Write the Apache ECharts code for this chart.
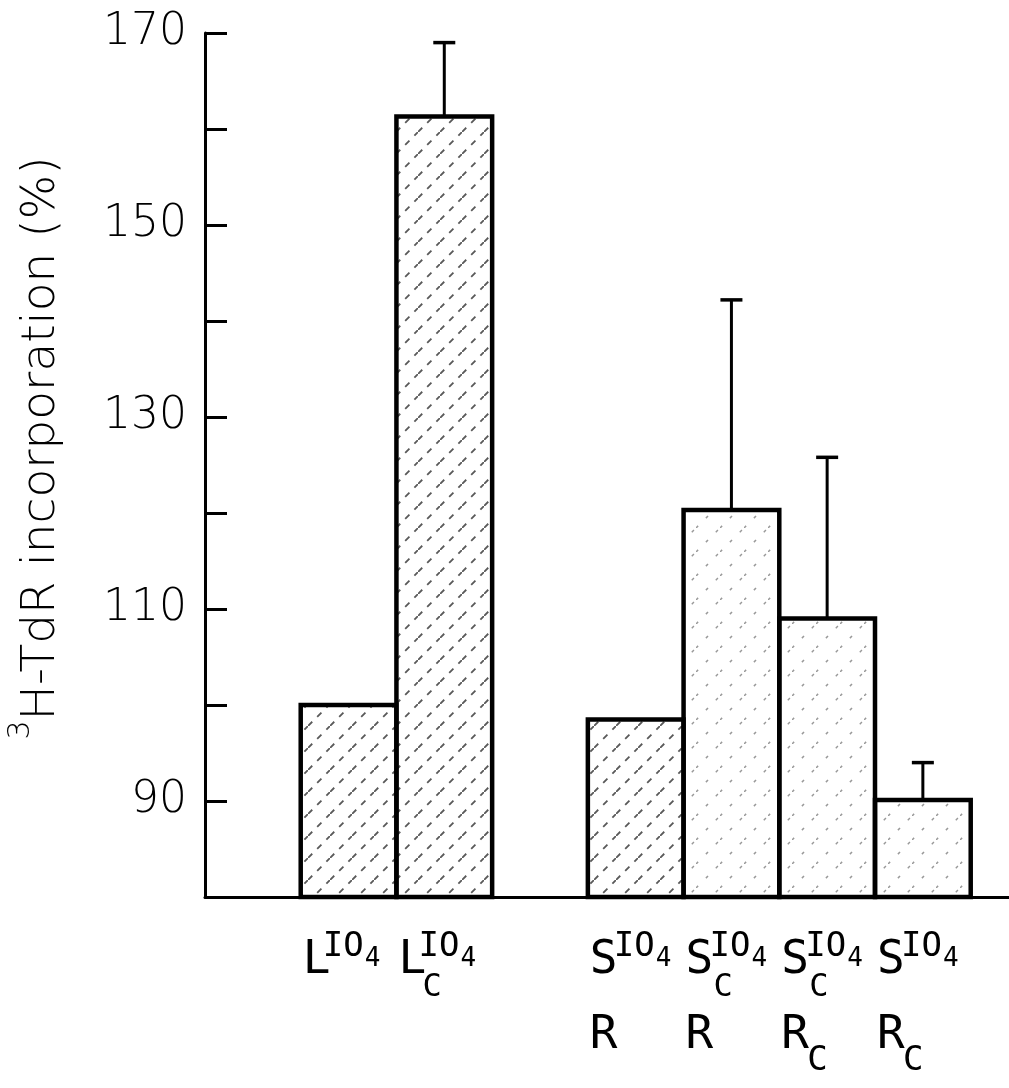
<!DOCTYPE html>
<html><head><meta charset="utf-8">
<script src="https://cdn.jsdelivr.net/npm/echarts@6/dist/echarts.min.js"></script>
<style>html,body{margin:0;padding:0;background:#fff}#c{width:1009px;height:1088px}</style>
</head><body><div id="c"></div>
<script>
// ---- data ----
const positions = [1.5, 2.5, 4.5, 5.5, 6.5, 7.5];
const values = [100, 161.3, 98.5, 120.3, 109, 90.1];
const errorTops = [null, 169, null, 142.2, 125.8, 94];
const labelMain = ['L', 'L', 'S', 'S', 'S', 'S'];
const labelSup = ['IO', 'IO', 'IO', 'IO', 'IO', 'IO'];
const labelSupSub = ['4', '4', '4', '4', '4', '4'];
const labelSub = ['', 'C', '', 'C', 'C', ''];
const labelLine2 = ['', '', 'R', 'R', 'R', 'R'];
const labelLine2Sub = ['', '', '', '', 'C', 'C'];
const yTickLabels = [90, 110, 130, 150, 170];
const yMin = 80, yMax = 170;
const xMin = 0, xMax = 8.4;

// ---- styles ----
const hatchStyle = ['dense', 'dense', 'dense', 'sparse', 'sparse', 'sparse'];
function makePattern(color, lw, dash, size) {
  const c = document.createElement('canvas');
  c.width = size; c.height = size;
  const ctx = c.getContext('2d');
  ctx.strokeStyle = color; ctx.lineWidth = lw; ctx.setLineDash(dash);
  ctx.beginPath(); ctx.moveTo(0, size); ctx.lineTo(size, 0); ctx.stroke();
  return c;
}
const patterns = {
  dense: { image: makePattern('rgba(0,0,0,0.65)', 1.8, [6, 7], 22), repeat: 'repeat' },
  sparse: { image: makePattern('rgba(0,0,0,0.4)', 1.5, [3, 11], 24), repeat: 'repeat' }
};
const monoFont = '"DejaVu Sans Mono", "Liberation Mono", monospace';
const sansFont = '"DejaVu Sans", "Noto Sans", sans-serif';

const chart = echarts.init(document.getElementById('c'), null, { renderer: 'canvas' });

const barData = positions.map((p, i) => [p, values[i]]);
const errData = [];
positions.forEach((p, i) => { if (errorTops[i] != null) errData.push([p, values[i], errorTops[i]]); });
const labelData = positions.map((p, i) => [p, yMin, i]);

const option = {
  animation: false,
  backgroundColor: '#fff',
  grid: { left: 205, right: 0, top: 33, bottom: 191, containLabel: false, outerBoundsMode: 'none' },
  xAxis: {
    type: 'value', min: xMin, max: xMax,
    axisLine: { show: true, onZero: false, lineStyle: { color: '#000', width: 3 } },
    axisTick: { show: false }, axisLabel: { show: false }, splitLine: { show: false }
  },
  yAxis: {
    type: 'value', min: yMin, max: yMax, interval: 10,
    name: '{sup|3}{n|H-TdR incorporation (%)}',
    nameLocation: 'middle', nameRotate: 90, nameGap: 140,
    nameTextStyle: {
      padding: [0, 0, 0, 34],
      rich: {
        sup: { fontFamily: sansFont, fontSize: 30, color: '#000', verticalAlign: 'top', fontWeight: 300 },
        n: { fontFamily: sansFont, fontSize: 47, color: '#000', verticalAlign: 'bottom', fontWeight: 300, padding: [12, 0, 0, 0] }
      }
    },
    axisLine: { show: true, lineStyle: { color: '#000', width: 3 } },
    axisTick: { show: true, inside: true, length: 22, lineStyle: { color: '#000', width: 3 } },
    axisLabel: {
      margin: 18, fontFamily: sansFont, fontSize: 44, color: '#000', fontWeight: 200,
      formatter: v => (yTickLabels.indexOf(v) >= 0 ? String(v) : '')
    },
    splitLine: { show: false }
  },
  series: [
    {
      type: 'custom', name: 'bars', data: barData, clip: false,
      renderItem: (params, api) => {
        const i = params.dataIndex;
        const x = api.value(0), y = api.value(1);
        const p0 = api.coord([x - 0.5, y]);
        const p1 = api.coord([x + 0.5, yMin]);
        return {
          type: 'rect',
          shape: { x: p0[0], y: p0[1], width: p1[0] - p0[0], height: p1[1] - p0[1] },
          style: { fill: patterns[hatchStyle[i]], stroke: '#000', lineWidth: 4.5 }
        };
      }
    },
    {
      type: 'custom', name: 'errors', data: errData, clip: false, z: 3,
      renderItem: (params, api) => {
        const x = api.value(0);
        const b = api.coord([x, api.value(1)]);
        const t = api.coord([x, api.value(2)]);
        return {
          type: 'group', children: [
            { type: 'line', shape: { x1: b[0], y1: b[1], x2: t[0], y2: t[1] }, style: { stroke: '#000', lineWidth: 3 } },
            { type: 'line', shape: { x1: t[0] - 11, y1: t[1], x2: t[0] + 11, y2: t[1] }, style: { stroke: '#000', lineWidth: 3.5 } }
          ]
        };
      }
    },
    {
      type: 'custom', name: 'labels', data: labelData, clip: false, silent: true,
      renderItem: (params, api) => {
        const i = api.value(2);
        const p = api.coord([api.value(0) - 0.5, api.value(1)]);
        const lx = p[0] + 2, by = p[1];
        const supOff = labelMain[i] === 'S' ? 24 : 20;
        const ch = [];
        const txt = (s, x, y, size) => ch.push({
          type: 'text', style: { text: s, x: x, y: y, fill: '#000', font: '300 ' + size + 'px ' + monoFont, align: 'left', verticalAlign: 'middle' }
        });
        txt(labelMain[i], lx, by + 64, 46);
        txt(labelSup[i], lx + supOff, by + 50, 34);
        txt(labelSupSub[i], lx + supOff + 42, by + 62, 26);
        if (labelSub[i]) txt(labelSub[i], lx + supOff + 4, by + 91, 32);
        if (labelLine2[i]) {
          txt(labelLine2[i], lx, by + 139, 46);
          if (labelLine2Sub[i]) txt(labelLine2Sub[i], lx + 26, by + 164, 34);
        }
        return { type: 'group', children: ch };
      }
    }
  ]
};
chart.setOption(option);
</script>
</body></html>
